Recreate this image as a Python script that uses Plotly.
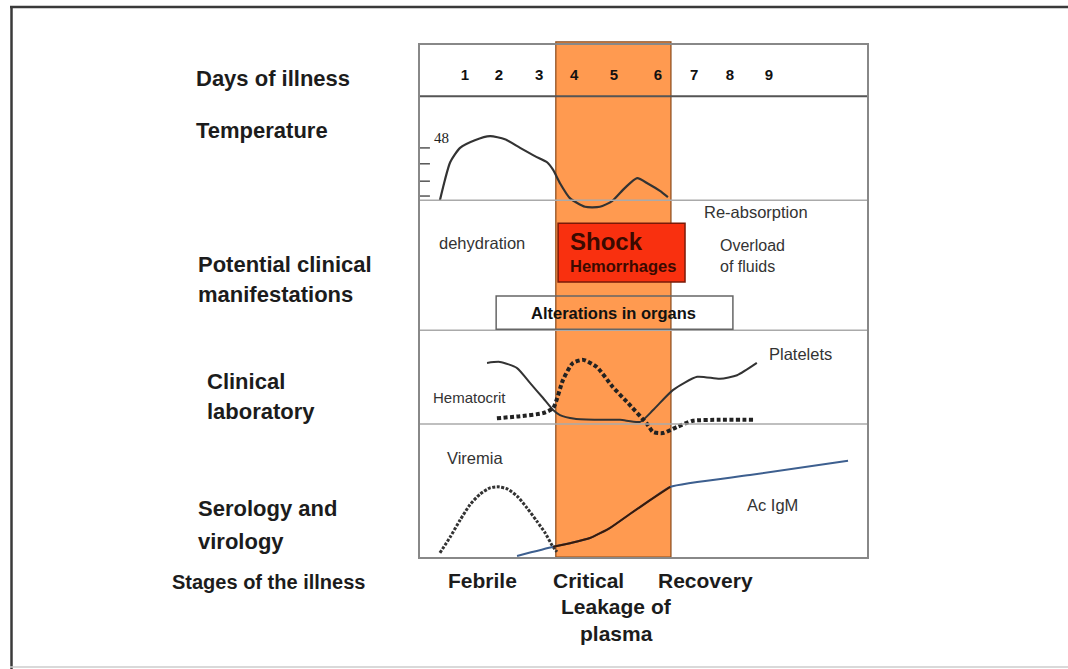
import plotly.graph_objects as go

# Eixo x: dias de doença; eixo y: altura relativa do quadro (0 = base, 100 = topo)
day_labels = ["1", "2", "3", "4", "5", "6", "7", "8", "9"]
day_pos = [1.0, 1.89, 2.95, 3.87, 4.92, 6.08, 7.03, 7.97, 9.0]

critical_start = 3.39
critical_end = 6.42
panel_edges = [90.0, 69.7, 44.3, 26.0]

# Temperatura
temp_day = [0.34, 0.47, 0.61, 0.87, 1.26, 1.66, 2.05, 2.45, 2.84, 3.16, 3.32,
            3.50, 3.76, 4.16, 4.55, 4.87, 5.21, 5.53, 5.82, 6.13, 6.34]
temp_val = [69.7, 73.6, 77.1, 79.9, 81.4, 82.2, 81.6, 79.9, 78.3, 77.1, 75.6,
            73.0, 70.1, 68.4, 68.4, 69.5, 72.1, 74.0, 72.9, 71.5, 70.3]
temp_ticks = [79.9, 76.8, 73.4, 70.5]

# Laboratório
platelet_day = [1.58, 1.92, 2.37, 2.71, 3.05, 3.32, 3.50, 3.89, 4.55, 5.08, 5.61,
                5.95, 6.47, 7.11, 7.71, 8.16, 8.68]
platelet_val = [37.9, 38.1, 36.9, 34.0, 31.1, 28.7, 27.7, 27.0, 26.8, 26.8, 26.4,
                28.7, 32.6, 35.2, 34.8, 35.5, 37.9]
hemato_day = [1.84, 2.45, 3.05, 3.32, 3.58, 3.84, 4.11, 4.47, 4.89, 5.26, 5.79,
              5.95, 6.21, 6.58, 7.00, 7.71, 8.58]
hemato_val = [27.1, 27.5, 28.1, 29.1, 34.6, 37.9, 38.5, 37.1, 33.2, 30.3, 26.0,
              24.4, 24.2, 25.4, 26.6, 26.8, 26.8]

# Sorologia e virologia
viremia_day = [0.34, 0.61, 0.87, 1.13, 1.40, 1.66, 1.87, 2.11, 2.37, 2.63, 2.89,
               3.11, 3.29, 3.42]
viremia_val = [0.8, 3.9, 7.2, 10.2, 12.3, 13.5, 13.7, 13.3, 11.9, 9.6, 7.0,
               4.7, 2.3, 1.0]
igm_day = [2.37, 3.32, 3.76, 4.29, 4.82, 5.34, 5.87, 6.40, 8.50, 11.08]
igm_val = [0.2, 2.0, 2.7, 3.7, 5.7, 8.4, 11.1, 13.7, 16.0, 18.8]

stage_names = ["Febrile", "Critical", "Recovery"]
stage_pos = [1.47, 4.24, 7.32]

FONT = "Liberation Sans, Arial, sans-serif"


def px_x(px):
    # posição horizontal da figura -> coordenada paper
    return (px - 420) / 447


def px_y(py):
    return (557 - py) / 512


fig = go.Figure()

# Curva de temperatura
fig.add_trace(go.Scatter(x=temp_day, y=temp_val, mode="lines",
                         line=dict(color="#333333", width=2.2, shape="spline", smoothing=0.6)))
fig.add_trace(go.Scatter(x=[-0.07] * len(temp_ticks), y=temp_ticks, mode="markers",
                         marker=dict(symbol="line-ew", size=8, line=dict(width=1.5, color="#555555"))))

# Dias
fig.add_trace(go.Scatter(x=day_pos, y=[93.8] * len(day_pos), mode="text",
                         text=[f"<b>{d}</b>" for d in day_labels],
                         textfont=dict(family=FONT, size=15, color="#111111")))

# Plaquetas e hematócrito
fig.add_trace(go.Scatter(x=platelet_day, y=platelet_val, mode="lines",
                         line=dict(color="#333333", width=2, shape="spline", smoothing=0.6)))
fig.add_trace(go.Scatter(x=hemato_day, y=hemato_val, mode="lines",
                         line=dict(color="#222222", width=4, dash="4px,2.5px", shape="spline", smoothing=0.6)))

# Viremia e IgM
fig.add_trace(go.Scatter(x=viremia_day, y=viremia_val, mode="lines",
                         line=dict(color="#333333", width=3, dash="3px,1.5px", shape="spline", smoothing=0.6)))
fig.add_trace(go.Scatter(x=igm_day, y=igm_val, mode="lines",
                         line=dict(color="#3d5f8f", width=2, shape="spline", smoothing=0.5)))
mid = [(d, v) for d, v in zip(igm_day, igm_val) if critical_start - 0.1 <= d <= critical_end]
fig.add_trace(go.Scatter(x=[m[0] for m in mid], y=[m[1] for m in mid], mode="lines",
                         line=dict(color="#3a1a08", width=2, shape="spline", smoothing=0.5)))

# Faixa crítica
fig.add_shape(type="rect", xref="x", yref="paper", x0=critical_start, x1=critical_end,
              y0=0, y1=1.006, fillcolor="#ff9a50", line=dict(color="#8a4a1a", width=1.2),
              layer="below")

# Separadores dos painéis
for i, e in enumerate(panel_edges):
    fig.add_shape(type="line", xref="paper", yref="y", x0=0, x1=1, y0=e, y1=e,
                  line=dict(color="#555555" if i == 0 else "#aaaaaa", width=2 if i == 0 else 1.5))

# Caixas das manifestações
fig.add_shape(type="rect", x0=3.45, x1=6.79, y0=53.7, y1=65.2,
              fillcolor="#f9300f", line=dict(color="#7a1a08", width=1.5))
fig.add_shape(type="rect", x0=1.82, x1=8.05, y0=44.5, y1=51.0,
              fillcolor="rgba(0,0,0,0)", line=dict(color="#666666", width=1.5))

# Moldura externa
fig.add_shape(type="line", xref="paper", yref="paper", x0=px_x(11.5), x1=px_x(11.5),
              y0=px_y(6), y1=px_y(670), line=dict(color="#3a3a3a", width=2.5))
fig.add_shape(type="line", xref="paper", yref="paper", x0=px_x(10), x1=px_x(1068),
              y0=px_y(7), y1=px_y(7), line=dict(color="#3a3a3a", width=2.5))
fig.add_shape(type="line", xref="paper", yref="paper", x0=px_x(10), x1=px_x(1068),
              y0=px_y(667), y1=px_y(667), line=dict(color="#cccccc", width=1.5))

# Textos internos
inner_text = [
    ("48", 0.37, 81.8, "center", 15, False, "#222222", "Liberation Serif, serif"),
    ("dehydration", 1.45, 61.3, "center", 16.5, False, "#333333", FONT),
    ("Re-absorption", 8.66, 67.4, "center", 16.5, False, "#333333", FONT),
    ("Overload<br>of fluids", 7.66, 58.7, "left", 16, False, "#333333", FONT),
    ("Shock", 3.71, 61.6, "left", 24, True, "#3b0a00", FONT),
    ("Hemorrhages", 3.71, 56.8, "left", 16.5, True, "#3b0a00", FONT),
    ("Alterations in organs", 4.9, 47.7, "center", 16.5, True, "#111111", FONT),
    ("Hematocrit", 0.11, 31.1, "left", 15, False, "#333333", FONT),
    ("Platelets", 9.82, 39.6, "center", 16.5, False, "#333333", FONT),
    ("Viremia", 1.26, 19.3, "center", 16.5, False, "#333333", FONT),
    ("Ac IgM", 9.1, 10.2, "center", 16.5, False, "#333333", FONT),
]
for txt, x, y, anc, size, bold, color, fam in inner_text:
    fig.add_annotation(x=x, y=y, text=f"<b>{txt}</b>" if bold else txt, showarrow=False,
                       xanchor=anc, yanchor="middle", align=anc,
                       font=dict(family=fam, size=size, color=color))

# Rótulos das linhas (à esquerda)
row_labels = [
    ("Days of illness", 194, 78, 22), ("Temperature", 194, 130, 22),
    ("Potential clinical", 196, 264, 22), ("manifestations", 196, 294, 22),
    ("Clinical", 205, 381, 22), ("laboratory", 205, 411, 22),
    ("Serology and", 196, 508, 22), ("virology", 196, 541, 22),
    ("Stages of the illness", 170, 582, 20),
]
for txt, px, py, size in row_labels:
    fig.add_annotation(xref="paper", yref="paper", x=px_x(px), y=px_y(py), text=f"<b>{txt}</b>",
                       showarrow=False, xanchor="left", yanchor="middle",
                       font=dict(family=FONT, size=size, color="#1c1c1c"))

# Fases
for name, pos in zip(stage_names, stage_pos):
    fig.add_annotation(xref="x", yref="paper", x=pos, y=px_y(580), text=f"<b>{name}</b>",
                       showarrow=False, xanchor="center", yanchor="middle",
                       font=dict(family=FONT, size=21, color="#1c1c1c"))
fig.add_annotation(xref="x", yref="paper", x=5.0, y=px_y(606), text="<b>Leakage of</b>",
                   showarrow=False, xanchor="center", yanchor="middle",
                   font=dict(family=FONT, size=21, color="#1c1c1c"))
fig.add_annotation(xref="x", yref="paper", x=5.0, y=px_y(633), text="<b>plasma</b>",
                   showarrow=False, xanchor="center", yanchor="middle",
                   font=dict(family=FONT, size=21, color="#1c1c1c"))

fig.update_xaxes(range=[-0.184, 11.579], showgrid=False, zeroline=False, showticklabels=False,
                 ticks="", showline=True, mirror=True, linecolor="#888888", linewidth=2)
fig.update_yaxes(range=[0, 100], showgrid=False, zeroline=False, showticklabels=False,
                 ticks="", showline=True, mirror=True, linecolor="#888888", linewidth=2)

fig.update_layout(
    width=1068, height=669,
    margin=dict(l=420, r=201, t=45, b=112, pad=0),
    showlegend=False,
    paper_bgcolor="white",
    plot_bgcolor="rgba(0,0,0,0)",
    font=dict(family=FONT),
    hovermode=False,
)

# remove a margem padrão do body para a figura ficar em (0, 0)
fig.write_html("out.html", config={"displayModeBar": False},
               post_script="document.body.style.margin='0';")
